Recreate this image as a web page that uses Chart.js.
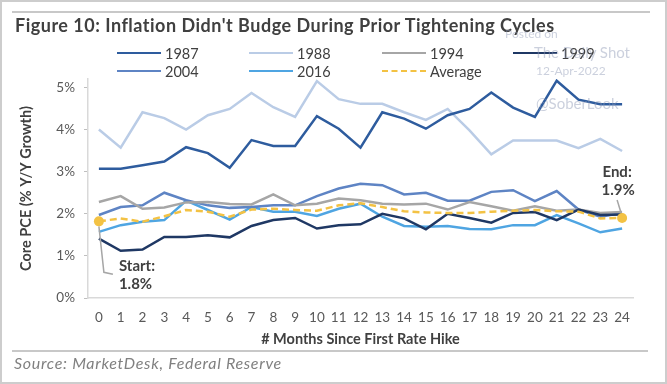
<!DOCTYPE html>
<html>
<head>
<meta charset="utf-8">
<script src="https://cdn.jsdelivr.net/npm/chart.js@4.4.1/dist/chart.umd.min.js"></script>
<style>
  html, body { margin: 0; padding: 0; background: #fff; }
  #frame {
    position: relative; width: 667px; height: 384px; box-sizing: border-box;
    border: 2px solid #cdcdcd; overflow: hidden; font-family: Lato, sans-serif;
  }
  #pceChart { position: absolute; left: -2px; top: -2px; }
  .rule { position: absolute; height: 2px; background: #c8c8c8; }
  #title { position: absolute; left: 13px; top: 12px; font-size: 18px; letter-spacing: 0.5px; font-weight: bold; color: #404040; white-space: nowrap; }
  #source { position: absolute; left: 12px; top: 351px; font-size: 16px; letter-spacing: 0.7px; font-style: italic; color: #808080; white-space: nowrap; }
  .legItem { position: absolute; height: 18px; display: flex; align-items: center; font-size: 14.5px; color: #404040; }
  .legLine { width: 44px; height: 0; margin-right: 4px; }
  .wm { position: absolute; color: rgba(140, 150, 180, 0.45); white-space: nowrap; }
</style>
</head>
<body>
<div id="frame">
  <canvas id="pceChart" width="667" height="384"></canvas>
  <div class="rule" style="left:10px; top:9px; width:638px;"></div>
  <div class="rule" style="left:10px; top:348px; width:636px;"></div>
  <div id="title">Figure 10: Inflation Didn't Budge During Prior Tightening Cycles</div>
  <div id="legend"></div>
  <div class="wm" style="left:503px; top:24px; font-size:12px;">Posted on</div>
  <div class="wm" style="left:532px; top:41px; font-size:15px;">The Daily Shot</div>
  <div class="wm" style="left:534px; top:61px; font-size:12px;">12-Apr-2022</div>
  <div class="wm" style="left:534px; top:92px; font-size:15px;">@SoberLook</div>
  <div id="source">Source: MarketDesk, Federal Reserve</div>
</div>

<script>
// months since first hike
const months = ['0','1','2','3','4','5','6','7','8','9','10','11','12','13','14','15','16','17','18','19','20','21','22','23','24'];

// core PCE y/y (%) per cycle
const pce1987 = [3.07, 3.07, 3.15, 3.24, 3.58, 3.44, 3.09, 3.75, 3.61, 3.61, 4.32, 4.02, 3.57, 4.41, 4.26, 4.02, 4.34, 4.49, 4.88, 4.52, 4.30, 5.16, 4.71, 4.60, 4.60];
const pce1988 = [4.00, 3.57, 4.41, 4.27, 4.00, 4.34, 4.49, 4.87, 4.53, 4.30, 5.15, 4.72, 4.61, 4.61, 4.41, 4.23, 4.49, 3.98, 3.41, 3.74, 3.74, 3.74, 3.56, 3.78, 3.49];
const pce1994 = [2.28, 2.42, 2.12, 2.15, 2.27, 2.28, 2.23, 2.22, 2.46, 2.20, 2.24, 2.36, 2.32, 2.24, 2.22, 2.24, 2.10, 2.28, 2.18, 2.07, 2.18, 2.07, 2.10, 2.02, 2.04];
const pce1999 = [1.41, 1.12, 1.15, 1.45, 1.45, 1.49, 1.44, 1.71, 1.85, 1.90, 1.65, 1.73, 1.75, 2.00, 1.89, 1.63, 2.00, 1.90, 1.79, 2.02, 2.04, 1.85, 2.10, 1.97, 1.98];
const pce2004 = [1.97, 2.16, 2.20, 2.50, 2.32, 2.20, 2.14, 2.16, 2.20, 2.20, 2.42, 2.60, 2.71, 2.68, 2.46, 2.50, 2.31, 2.31, 2.52, 2.56, 2.30, 2.54, 2.10, 1.93, 2.02];
const pce2016 = [1.57, 1.73, 1.81, 1.85, 2.31, 2.09, 1.86, 2.16, 2.05, 2.05, 1.95, 2.12, 2.24, 1.93, 1.71, 1.69, 1.71, 1.64, 1.63, 1.73, 1.73, 1.97, 1.77, 1.56, 1.65];
const pceAverage = [1.82, 1.89, 1.81, 1.94, 2.09, 2.05, 1.93, 2.10, 2.12, 2.09, 2.07, 2.20, 2.25, 2.16, 2.06, 2.03, 2.02, 2.02, 2.05, 2.07, 2.09, 2.06, 2.05, 1.89, 1.90];

const yTicks = [0, 1, 2, 3, 4, 5];

const seriesNames = ['1987', '1988', '1994', '1999', '2004', '2016', 'Average'];
const seriesData = [pce1987, pce1988, pce1994, pce1999, pce2004, pce2016, pceAverage];
const seriesColors = ['#2E5C9E', '#BACCE6', '#A6A6A6', '#1F3864', '#5E84C4', '#4FA5E2', '#F3C244'];

// legend grid positions (4 columns, 2 rows)
const legendCols = [115, 247, 380, 511];
const legendRows = [42, 60];

const legendBox = document.getElementById('legend');
seriesNames.forEach((name, i) => {
    const item = document.createElement('div');
    item.className = 'legItem';
    item.style.left = legendCols[i % 4] + 'px';
    item.style.top = legendRows[Math.floor(i / 4)] + 'px';
    const line = document.createElement('span');
    line.className = 'legLine';
    if (name === 'Average') {
        line.style.borderTop = '2.5px dashed ' + seriesColors[i];
    } else {
        line.style.borderTop = '2.5px solid ' + seriesColors[i];
    }
    item.appendChild(line);
    item.appendChild(document.createTextNode(name));
    legendBox.appendChild(item);
});

// start / end call-outs on the average line
const calloutPlugin = {
    id: 'callouts',
    afterDatasetsDraw(chart) {
        const ctx = chart.ctx;
        const x = chart.scales.x;
        const y = chart.scales.y;
        const last = pceAverage.length - 1;

        const sx = x.getPixelForValue(0);
        const sy = y.getPixelForValue(pceAverage[0]);
        const ex = x.getPixelForValue(last);
        const ey = y.getPixelForValue(pceAverage[last]);

        ctx.save();
        ctx.strokeStyle = '#a6a6a6';
        ctx.lineWidth = 1.5;
        ctx.beginPath();
        ctx.moveTo(sx, sy + 5);
        ctx.lineTo(sx + 5, sy + 51);
        ctx.lineTo(sx + 14, sy + 53);
        ctx.stroke();

        ctx.beginPath();
        ctx.moveTo(ex - 5, ey - 18);
        ctx.lineTo(ex - 1, ey - 5);
        ctx.stroke();

        ctx.fillStyle = '#404040';
        ctx.font = 'bold 15px Lato';
        ctx.textBaseline = 'middle';
        ctx.textAlign = 'left';
        ctx.fillText('Start:', sx + 20, sy + 45);
        ctx.fillText(pceAverage[0].toFixed(1) + '%', sx + 20, sy + 63);
        ctx.textAlign = 'center';
        ctx.fillText('End:', ex - 5, ey - 46);
        ctx.fillText(pceAverage[last].toFixed(1) + '%', ex - 4, ey - 28);
        ctx.restore();
    }
};

const ctx = document.getElementById('pceChart').getContext('2d');
const chart = new Chart(ctx, {
    type: 'line',
    data: {
        labels: months,
        datasets: seriesNames.map((name, i) => ({
            label: name,
            data: seriesData[i],
            borderColor: seriesColors[i],
            backgroundColor: seriesColors[i],
            borderWidth: 2.5,
            borderDash: name === 'Average' ? [7, 4] : [],
            tension: 0,
            pointRadius: name === 'Average'
                ? (c => (c.dataIndex === 0 || c.dataIndex === months.length - 1) ? 5 : 0)
                : 0,
            pointBorderWidth: 0,
            pointHoverRadius: 0,
            order: name === 'Average' ? 0 : (name === '1999' ? 1 : 2)
        }))
    },
    options: {
        responsive: false,
        animation: false,
        devicePixelRatio: 1,
        layout: { padding: { left: 0, top: 79, right: 34, bottom: 0 } },
        plugins: {
            legend: { display: false },
            tooltip: { enabled: false }
        },
        scales: {
            x: {
                offset: true,
                grid: { display: false, drawTicks: false },
                border: { display: true, color: '#d9d9d9', width: 1.5 },
                ticks: {
                    autoSkip: false, maxRotation: 0, padding: 12,
                    color: '#595959', font: { family: 'Lato', size: 13.5 }
                },
                title: {
                    display: true, text: '# Months Since First Rate Hike',
                    color: '#404040', font: { family: 'Lato', size: 14.5, weight: 'bold' },
                    padding: { top: 0, bottom: 36 }
                },
                afterFit(scale) { scale.height = 86; }
            },
            y: {
                min: 0,
                max: 5.2,
                grid: { drawOnChartArea: false, drawTicks: true, tickLength: 4, color: '#bfbfbf' },
                border: { display: true, color: '#d9d9d9', width: 1.5 },
                ticks: {
                    stepSize: 1, padding: 9, color: '#595959',
                    font: { family: 'Lato', size: 13.5 },
                    callback: v => v + '%'
                },
                afterBuildTicks(scale) {
                    scale.ticks = yTicks.map(v => ({ value: v }));
                },
                title: {
                    display: true, text: 'Core PCE (% Y/Y Growth)',
                    color: '#404040', font: { family: 'Lato', size: 14.5, weight: 'bold' },
                    padding: { top: 18, bottom: 0 }
                },
                afterFit(scale) { scale.width = 88; }
            }
        }
    },
    plugins: [calloutPlugin]
});
</script>
</body>
</html>
